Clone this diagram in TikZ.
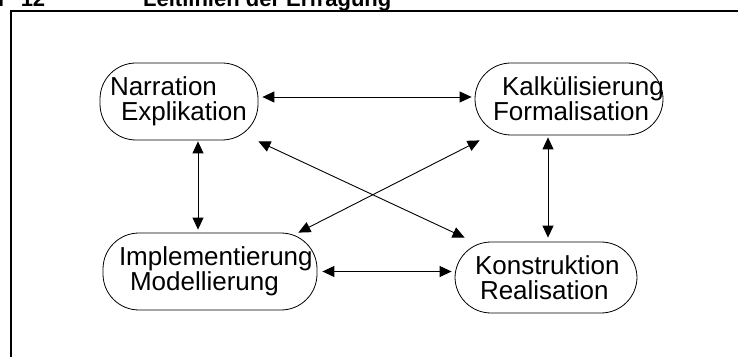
\documentclass[tikz,border=0pt]{standalone}
\usepackage{fontspec}
\setmainfont{Liberation Sans}
\usetikzlibrary{arrows.meta}
\tikzset{
  stage/.style={draw,line width=0.8pt,rounded corners=36pt,align=left,
    inner xsep=0pt,inner ysep=0pt,font=\fontsize{26}{25}\selectfont},
  link/.style={<->,line width=0.9pt},
  head/.style={font=\bfseries\fontsize{22}{24}\selectfont,anchor=base west,inner sep=0pt}
}
\begin{document}
\begin{tikzpicture}[>={Triangle[length=12pt,width=11pt]}]
  \useasboundingbox (0pt,0pt) rectangle (738pt,356pt);
		%%
  \node (Nr) at (-2pt,349pt) [head] {r\hspace{14pt}12};
  \node (Title) at (143pt,349pt) [head] {Leitlinien der Erfragung};
  \draw [line width=2pt] (10.5pt,-1pt) -- (10.5pt,344.5pt) -- (739pt,344.5pt);
		%
  \node (Narr) at (179pt,254.5pt) [stage,text width=158pt,minimum height=77pt] {\hspace*{10pt}Narration\\\hspace*{21pt}Explikation};
  \node (Kalk) at (569pt,257pt) [stage,text width=188pt,minimum height=72pt] {\hspace*{27pt}Kalkülisierung\\\hspace*{18pt}Formalisation};
  \node (Impl) at (210pt,84.5pt) [stage,text width=214pt,minimum height=77pt] {\hspace*{16pt}Implementierung\\\hspace*{27pt}Modellierung};
  \node (Konst) at (546pt,78.5pt) [stage,text width=182pt,minimum height=71pt] {\hspace*{20pt}Konstruktion\\\hspace*{25pt}Realisation};
		%
  \draw [link,shorten <=4pt,shorten >=3pt] ([yshift=4.5pt]Narr.east) -- ([yshift=2pt]Kalk.west);
  \draw [link,shorten <=1pt,shorten >=3pt] ([xshift=19pt]Narr.south) -- ([xshift=19pt]Narr.south |- Impl.north);
  \draw [link,shorten <=2pt,shorten >=4pt] ([xshift=-21pt]Kalk.south) -- ([xshift=-21pt]Kalk.south |- Konst.north);
  \draw [link,shorten <=5pt,shorten >=3pt] (Impl.east) -- (Impl.east -| Konst.west);
  \draw [link] ([yshift=-1pt]Narr.south east) -- ([xshift=10pt,yshift=4pt]Konst.north west);
  \draw [link] ([xshift=5pt,yshift=-5pt]Kalk.south west) -- ([xshift=-19pt]Impl.north east);
		%
\end{tikzpicture}
\end{document}
